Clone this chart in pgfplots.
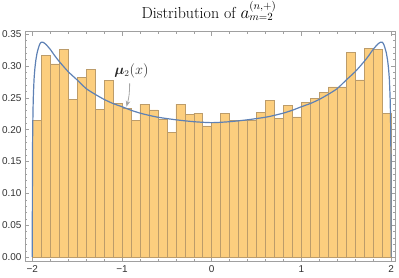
\documentclass[border=0pt]{standalone}
\usepackage{pgfplots}
\pgfplotsset{compat=1.18}
\usepackage{bm}
\usepackage{fontspec}
\newfontfamily\ticksf{Liberation Sans}
\usetikzlibrary{calc,arrows.meta}
\definecolor{barfill}{RGB}{252,206,126}
\definecolor{baredge}{RGB}{188,156,106}
\definecolor{curvecol}{RGB}{94,129,181}
\definecolor{framegray}{RGB}{160,160,160}

\pgfplotstableread{
x y
-2.0 0.215
-1.9 0.317
-1.8 0.303
-1.7 0.326
-1.6 0.248
-1.5 0.282
-1.4 0.294
-1.3 0.232
-1.2 0.277
-1.1 0.241
-1.0 0.233
-0.9 0.215
-0.8 0.240
-0.7 0.231
-0.6 0.216
-0.5 0.196
-0.4 0.240
-0.3 0.224
-0.2 0.226
-0.1 0.206
0.0 0.211
0.1 0.226
0.2 0.215
0.3 0.214
0.4 0.214
0.5 0.227
0.6 0.246
0.7 0.218
0.8 0.238
0.9 0.220
1.0 0.243
1.1 0.249
1.2 0.258
1.3 0.267
1.4 0.267
1.5 0.321
1.6 0.278
1.7 0.327
1.8 0.326
1.9 0.226
2.0 0.226
}\histdata

\pgfplotstableread{
x y
-2.0 0
-1.998 0.14
-1.995 0.20
-1.989 0.247
-1.98 0.279
-1.97 0.297
-1.96 0.309
-1.945 0.321
-1.92 0.333
-1.9 0.3372
-1.88 0.337
-1.85 0.334
-1.8 0.326
-1.75 0.316
-1.7 0.307
-1.6 0.291
-1.5 0.278
-1.4 0.2645
-1.3 0.2555
-1.2 0.2475
-1.1 0.241
-1.0 0.236
-0.9 0.2305
-0.8 0.226
-0.7 0.2225
-0.6 0.2195
-0.4 0.2155
-0.2 0.2125
0.0 0.211
0.2 0.2125
0.4 0.2155
0.6 0.2195
0.7 0.2225
0.8 0.226
0.9 0.2305
1.0 0.236
1.1 0.241
1.2 0.2475
1.3 0.2555
1.4 0.2645
1.5 0.278
1.6 0.291
1.7 0.307
1.75 0.316
1.8 0.326
1.85 0.334
1.88 0.337
1.9 0.3372
1.92 0.333
1.945 0.321
1.96 0.309
1.97 0.297
1.98 0.279
1.989 0.247
1.995 0.20
1.998 0.14
2.0 0
}\curvedata

\begin{document}
\begin{tikzpicture}
\begin{axis}[scale only axis, width=370bp, height=230bp,
  xmin=-2.081, xmax=2.043, ymin=-0.007, ymax=0.3536,
  axis line style={framegray, line width=0.6bp},
  tick style={framegray, line width=0.5bp},
  major tick length=4.5bp, minor tick length=2.5bp,
  tick align=inside,
  xtick={-2,-1,0,1,2}, xticklabels={−2,−1,0,1,2},
  minor x tick num=4,
  ytick={0,0.05,0.10,0.15,0.20,0.25,0.30,0.35},
  yticklabels={0.00,0.05,0.10,0.15,0.20,0.25,0.30,0.35},
  minor y tick num=4,
  ticklabel style={font=\ticksf\fontsize{10}{12}\selectfont, text=black!80},
  clip=false,
]
\addplot[ybar interval, fill=barfill, draw=baredge, line width=0.5bp] table[x=x,y=y] {\histdata};
\addplot[curvecol, line width=1.2bp, smooth, tension=0.4] table[x=x,y=y] {\curvedata};
\node[font=\fontsize{13.5}{15}\selectfont, text=black!85] at (axis cs:-0.895,0.292) {$\bm{\mu}_2(x)$};
\draw[black!35, line width=0.8bp, -{Stealth[length=6bp,width=4.5bp]}] (axis cs:-0.915,0.2727) to[bend left=8] (axis cs:-0.95,0.236);
\node[font=\fontsize{16}{19}\selectfont, anchor=base, yshift=13.4bp, xshift=-1bp] at (rel axis cs:0.5,1) {Distribution of $a^{(n,+)}_{m=2}$};
\coordinate (sw) at (rel axis cs:0,0);
\coordinate (ne) at (rel axis cs:1,1);
\end{axis}
\pgfresetboundingbox
\path[use as bounding box] ($(sw)+(-25bp,-16.3bp)$) rectangle ($(ne)+(4bp,31.7bp)$);
\end{tikzpicture}
\end{document}
